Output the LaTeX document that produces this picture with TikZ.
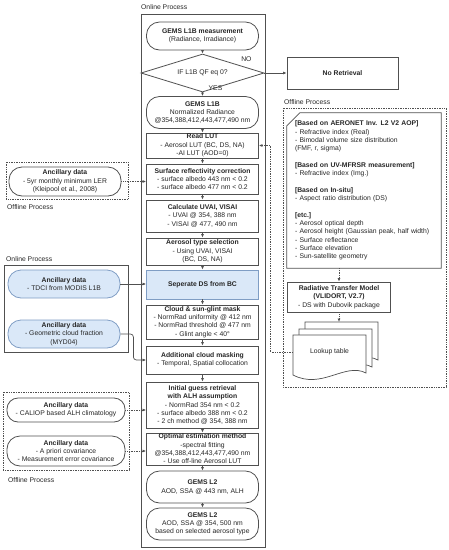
\documentclass[tikz,border=0pt]{standalone}
\usepackage{fontspec}
\setmainfont{Liberation Sans}
\usetikzlibrary{arrows.meta,shapes.geometric}
\definecolor{linegray}{HTML}{505050}
\definecolor{txtgray}{HTML}{262626}
\definecolor{blueFill}{HTML}{DAE8F8}
\definecolor{blueLine}{HTML}{7F9DC4}
\begin{document}
\begin{tikzpicture}[x=1pt,y=-1pt,
  every node/.style={font=\fontsize{6.8}{8.3}\selectfont, text=txtgray},
  procbox/.style={draw=linegray, line width=0.8pt, fill=white, align=center, inner sep=1pt, minimum width=112pt},
  termbox/.style={procbox, rounded corners=13pt},
  bluebox/.style={fill=blueFill, draw=blueLine},
  frame/.style={draw=linegray, line width=0.7pt},
  dotframe/.style={draw=linegray, line width=0.7pt, densely dotted},
  arr/.style={draw=linegray, line width=0.7pt, -{Latex[length=3.5pt,width=3pt]}},
  dotarr/.style={arr, densely dotted},
  lbl/.style={anchor=west, inner sep=0pt}]
\useasboundingbox (0,0) rectangle (449,550);

% online process column
\draw[frame] (141,14) rectangle (265,547);
\node[lbl] (onl) at (141,7) {Online Process};

\node[termbox, minimum height=28pt] (l1b) at (202.5,36) {\textbf{GEMS L1B measurement}\\(Radiance, Irradiance)};
\node[procbox, diamond, aspect=3.3, minimum width=123pt, minimum height=38pt, inner sep=0pt] (qf) at (202.5,73) {IF L1B QF eq 0?};
\node[termbox, minimum height=32pt] (l1bn) at (202.5,112.5) {\textbf{GEMS L1B}\\Normalized Radiance\\@354,388,412,443,477,490 nm};
\node[procbox, minimum height=25pt] (lut) at (202.5,145.5) {\textbf{Read LUT}\\- Aerosol LUT (BC, DS, NA)\\-AI LUT (AOD=0)};
\node[procbox, minimum height=30pt] (sfc) at (202.5,179) {\textbf{Surface reflectivity correction}\\- surface albedo 443 nm < 0.2\\- surface albedo 477 nm < 0.2};
\node[procbox, minimum height=32pt] (uvai) at (202.5,216) {\textbf{Calculate UVAI, VISAI}\\- UVAI @ 354, 388 nm\\- VISAI @ 477, 490 nm};
\node[procbox, minimum height=27pt] (type) at (202.5,251.5) {\textbf{Aerosol type selection}\\- Using UVAI, VISAI\\(BC, DS, NA)};
\node[procbox, bluebox, minimum height=29pt] (sep) at (202.5,284.5) {\textbf{Seperate DS from BC}};
\node[procbox, minimum height=34pt] (cloud) at (202.5,322) {\textbf{Cloud \& sun-glint mask}\\- NormRad uniformity @ 412 nm\\- NormRad threshold @ 477 nm\\- Glint angle < 40°};
\node[procbox, minimum height=28pt] (addcld) at (202.5,360) {\textbf{Additional cloud masking}\\- Temporal, Spatial collocation};
\node[procbox, minimum height=46pt] (init) at (202.5,405) {\textbf{Initial guess retrieval}\\\textbf{with ALH assumption}\\- NormRad 354 nm < 0.2\\- surface albedo 388 nm < 0.2\\- 2 ch method @ 354, 388 nm};
\node[procbox, minimum height=32pt] (oe) at (202.5,449) {\textbf{Optimal estimation method}\\-spectral fitting\\@354,388,412,443,477,490 nm\\- Use off-line Aerosol LUT};
\node[termbox, minimum height=32pt] (l2a) at (202.5,487) {\textbf{GEMS L2}\\AOD, SSA @ 443 nm, ALH};
\node[termbox, minimum height=32pt] (l2b) at (202.5,524) {\textbf{GEMS L2}\\AOD, SSA @ 354, 500 nm\\based on selected aerosol type};

\foreach \a/\b in {l1b/qf, l1bn/lut, lut/sfc, sfc/uvai, uvai/type, type/sep, sep/cloud, cloud/addcld, addcld/init, init/oe, oe/l2a, l2a/l2b}
  \draw[arr] (\a) -- (\b);
\draw[arr] (qf) -- (l1bn);
\node[lbl] (yes) at ([xshift=6pt,yshift=4pt]qf.south) {YES};

% no retrieval
\node[procbox, minimum width=111pt, minimum height=32pt] (noret) at (342.5,73) {\textbf{No Retrieval}};
\draw[arr] (qf.east) -- (qf.east -| noret.west);
\node (no) at ([xshift=-18pt,yshift=14pt]qf.east) {NO};

% offline process, right
\draw[dotframe] (283,108) rectangle (446,387);
\node[lbl] at (284,102) {Offline Process};
\node[align=left, text width=138pt, minimum width=154pt, minimum height=155pt, inner sep=0pt] (aop) at (364,190.5) {%
\textbf{[Based on AERONET Inv. L2 V2 AOP]}\\
- Refractive index (Real)\\
- Bimodal volume size distribution\\
(FMF, r, sigma)\\[8.3pt]
\textbf{[Based on UV-MFRSR measurement]}\\
- Refractive index (Img.)\\[8.3pt]
\textbf{[Based on In-situ]}\\
- Aspect ratio distribution (DS)\\[8.3pt]
\textbf{[etc.]}\\
- Aerosol optical depth\\
- Aerosol height (Gaussian peak, half width)\\
- Surface reflectance\\
- Surface elevation\\
- Sun-satellite geometry};
\draw[frame] (aop.south west) -- ([yshift=-13pt]aop.north west) -- ([xshift=13pt]aop.north west) -- (aop.north east) -- (aop.south east) -- cycle;

\node[procbox, minimum width=103pt, minimum height=30pt] (rtm) at (339,297) {\textbf{Radiative Transfer Model}\\\textbf{(VLIDORT, V2.7)}\\- DS with Dubovik package};
\draw[dotarr] (rtm.north |- aop.south) -- (rtm.north);

\foreach \dx/\dy in {12/-13, 6/-6, 0/0}
  \draw[frame, fill=white, shift={(\dx,\dy)}] (293,335) -- (366,335) -- (366,373) .. controls (345,362) and (322,390) .. (293,375) -- cycle;
\node[minimum width=73pt, minimum height=30pt, inner sep=0pt] (lookup) at (329.5,352) {Lookup table};
\coordinate (stacktop) at (339,322);
\draw[dotarr] (rtm.south) -- (stacktop);
\draw[dotarr] (lookup.west) -- ++(-22,0) |- (lut.east);

% ancillary data, left
\draw[dotframe] (6,162) rectangle (128,199);
\node[termbox, minimum height=29pt] (ler) at (65,181.5) {\textbf{Ancillary data}\\- 5yr monthly minimum LER\\(Kleipool et al., 2008)};
\node[lbl] at (7,207) {Offline Process};
\draw[dotarr] (ler.east) -- (ler.east -| sfc.west);

\node[lbl] at (6,259) {Online Process};
\draw[frame] (4,265) rectangle (128,352);
\node[termbox, bluebox, minimum height=28pt] (tdci) at (64,284) {\textbf{Ancillary data}\\- TDCI from MODIS L1B};
\node[termbox, bluebox, minimum height=28pt] (gcf) at (64,334) {\textbf{Ancillary data}\\- Geometric cloud fraction\\(MYD04)};
\draw[arr] (tdci.east) -- (tdci.east -| sep.west);
\draw[arr, rounded corners=3pt] (gcf.east) -- ++(13,0) |- (addcld.west);

\draw[dotframe] (3,392) rectangle (129,470);
\node[termbox, minimum width=118pt, minimum height=24pt, rounded corners=11pt] (alh) at (66,410) {\textbf{Ancillary data}\\- CALIOP based ALH climatology};
\node[termbox, minimum width=118pt, minimum height=30pt] (cov) at (66,451) {\textbf{Ancillary data}\\- A priori covariance\\- Measurement error covariance};
\node[lbl] at (8,480) {Offline Process};
\draw[dotarr] (alh.east) -- (alh.east -| init.west);
\draw[dotarr] (cov.east) -- (cov.east -| oe.west);
\end{tikzpicture}
\end{document}
